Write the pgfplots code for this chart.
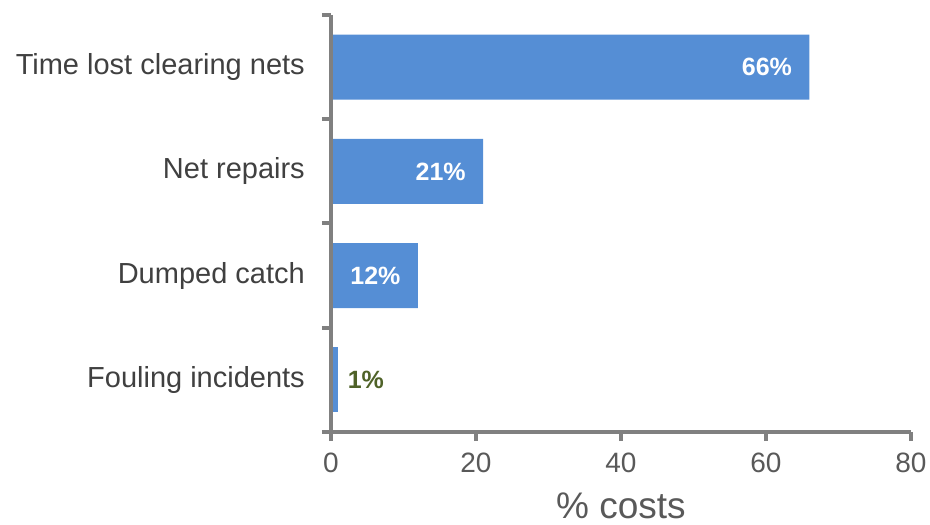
\documentclass[border=0pt]{standalone}
\usepackage{fontspec}
\setmainfont{Liberation Sans}
\usepackage{pgfplots}
\pgfplotsset{compat=1.18}
\definecolor{barblue}{HTML}{558ED5}
\definecolor{axgray}{HTML}{808080}
\definecolor{txtgray}{HTML}{404040}
\definecolor{ticktxt}{HTML}{595959}
\definecolor{olivetxt}{HTML}{4F6228}
\begin{document}
\begin{tikzpicture}
\path[use as bounding box] (-331bp,-93bp) rectangle (599bp,432bp);
\begin{axis}[
  /pgf/number format/assume math mode=true,
  axis on top,
  scale only axis, width=580bp, height=417bp,
  xbar, bar width=0.625, bar shift=0pt,
  xmin=0, xmax=80, ymin=-0.5, ymax=3.5,
  xtick={0,20,40,60,80},
  ytick={-0.5,0.5,1.5,2.5,3.5},
  yticklabels={},
  extra y ticks={0,1,2,3},
  extra y tick labels={Fouling incidents, Dumped catch, Net repairs, Time lost clearing nets},
  extra y tick style={major tick length=0pt, tick style={draw=none},
    yticklabel style={anchor=east, inner sep=0pt, xshift=-26bp, text=txtgray,
      font=\fontsize{29bp}{32bp}\selectfont}},
  axis lines*=left,
  axis line style={axgray, line width=4bp},
  tick style={axgray, line width=4bp},
  tick align=outside,
  major tick length=9bp,
  xticklabel style={anchor=north, inner sep=0pt, yshift=-12bp, text=ticktxt,
    font=\fontsize{28bp}{30bp}\selectfont},
  xlabel={\% costs},
  xlabel style={at={(axis description cs:0.5,0)}, anchor=base, yshift=-86bp,
    text=ticktxt, font=\fontsize{37bp}{40bp}\selectfont},
  point meta=x,
  nodes near coords={\pgfmathprintnumber{\pgfplotspointmeta}\%},
  clip=false,
]
\addplot[fill=barblue, draw=none,
  nodes near coords style={anchor=east, xshift=-14bp, text=white,
    font=\bfseries\fontsize{25bp}{27bp}\selectfont}]
  coordinates {(66,3) (21,2) (12,1)};
\addplot[fill=barblue, draw=none,
  nodes near coords style={anchor=west, xshift=6bp, text=olivetxt,
    font=\bfseries\fontsize{25bp}{27bp}\selectfont}]
  coordinates {(1,0)};
\end{axis}
\end{tikzpicture}
\end{document}
